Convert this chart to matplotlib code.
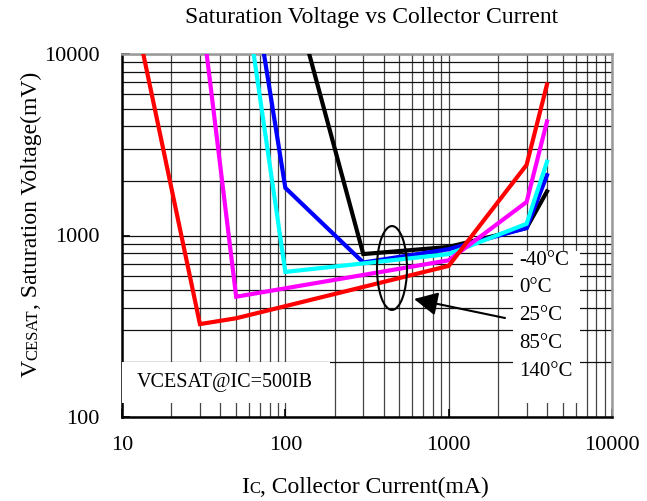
import matplotlib
matplotlib.use("Agg")
import matplotlib.pyplot as plt
import matplotlib.transforms as mtransforms
from matplotlib.patches import Ellipse, Rectangle
from matplotlib.ticker import LogLocator, NullFormatter, FixedLocator

plt.rcParams['font.family'] = ['Liberation Serif', 'DejaVu Serif']

# collector current (mA) and saturation voltage (mV) per temperature
ic_m40 = [140, 300, 1000, 3000, 4000]
v_m40 = [10000, 790, 865, 1100, 1750]

ic_0 = [74, 100, 300, 1000, 3000, 4000]
v_0 = [10000, 1830, 710, 840, 1100, 2150]

ic_25 = [64, 100, 1000, 3000, 4000]
v_25 = [10000, 630, 790, 1160, 2550]

ic_85 = [33, 50, 1000, 3000, 4000]
v_85 = [10000, 460, 730, 1530, 4250]

ic_140 = [13.5, 30, 50, 1000, 3000, 4000]
v_140 = [10000, 325, 350, 680, 2450, 6800]

temps = ["-40°C", "0°C", "25°C", "85°C", "140°C"]

W, H = 647, 501
fig = plt.figure(figsize=(W / 100, H / 100), dpi=100)
ax = fig.add_axes([122 / W, 1 - 417 / H, 490 / W, 363 / H])

ax.plot(ic_m40, v_m40, color='black', lw=3, zorder=5, solid_joinstyle='miter')
ax.plot(ic_0, v_0, color='#0000ff', lw=3, zorder=5, solid_joinstyle='miter')
ax.plot(ic_25, v_25, color='#00ffff', lw=3, zorder=5, solid_joinstyle='miter')
ax.plot(ic_85, v_85, color='#ff00ff', lw=3, zorder=5, solid_joinstyle='miter')
ax.plot(ic_140, v_140, color='#ff0000', lw=3, zorder=5, solid_joinstyle='miter')

ax.set_xscale('log')
ax.set_yscale('log')
ax.set_xlim(10, 10000)
ax.set_ylim(100, 10000)

ax.xaxis.set_major_locator(FixedLocator([10, 100, 1000, 10000]))
ax.yaxis.set_major_locator(FixedLocator([100, 1000, 10000]))
ax.set_xticklabels(["10", "100", "1000", "10000"])
ax.set_yticklabels(["100", "1000", "10000"])
ax.xaxis.set_minor_locator(LogLocator(base=10, subs=range(2, 10), numticks=20))
ax.yaxis.set_minor_locator(LogLocator(base=10, subs=range(2, 10), numticks=20))
ax.xaxis.set_minor_formatter(NullFormatter())
ax.yaxis.set_minor_formatter(NullFormatter())

ax.tick_params(which='major', direction='in', length=6, width=1.2, labelsize=16, color='black')
ax.tick_params(axis='y', which='major', pad=16)
ax.tick_params(axis='x', which='major', pad=14)
ax.tick_params(which='minor', length=0)

ax.grid(True, which='both', axis='x', color='#444444', lw=0.9, zorder=1)
ax.grid(True, which='both', axis='y', color='#111111', lw=0.9, zorder=1)
ax.set_axisbelow(True)

for s in ['left', 'bottom']:
    ax.spines[s].set_color('black')
    ax.spines[s].set_linewidth(1.8)
for s in ['top', 'right']:
    ax.spines[s].set_color('#999999')
    ax.spines[s].set_linewidth(1.8)

# white boxes over the grid
ax.add_patch(Rectangle((0, 0.0386), 0.4245, 0.113, transform=ax.transAxes,
                       facecolor='white', edgecolor='none', zorder=3))
ax.add_patch(Rectangle((0.798, 0.0386), 0.137, 0.419, transform=ax.transAxes,
                       facecolor='white', edgecolor='none', zorder=3))

ax.text(0.0306, 0.0964, "VCESAT@IC=500IB", transform=ax.transAxes, fontsize=14.5,
        ha='left', va='center', zorder=6)

for i, t in enumerate(temps):
    ax.text(0.81, 0.4325 - i * 0.0771, t, transform=ax.transAxes, fontsize=15,
            ha='left', va='center', zorder=6)

ax.add_patch(Ellipse((0.551, 0.4105), 0.0612, 0.231, transform=ax.transAxes,
                     fill=False, edgecolor='black', lw=1.5, zorder=6))
ax.annotate('', xy=(0.596, 0.325), xytext=(0.7816, 0.2727), xycoords='axes fraction',
            arrowprops=dict(arrowstyle='-|>', color='black', lw=1.5,
                            mutation_scale=36, shrinkA=0, shrinkB=0), zorder=6)

fig.text(371.5 / W, 1 - 18 / H, "Saturation Voltage vs Collector Current",
         fontsize=17, ha='center', va='center')

# axis labels with small-cap subscripts, built piece by piece
renderer = fig.canvas.get_renderer()
ident = mtransforms.IdentityTransform()


def chain(pieces, x, y, rotation):
    for s, size in pieces:
        t = fig.text(x, y, s, fontsize=size, rotation=rotation, rotation_mode='anchor',
                     ha='left', va='baseline', transform=ident)
        bb = t.get_window_extent(renderer)
        if rotation == 0:
            x = bb.x1
        else:
            y = bb.y1


chain([("I", 17), ("C", 12), (", Collector Current(mA)", 17)], 241, 501 - 493, 0)
chain([("V", 17), ("CESAT", 12), (", Saturation Voltage(mV)", 17)], 37, 501 - 377, 90)

fig.savefig("out.png", dpi=100)
